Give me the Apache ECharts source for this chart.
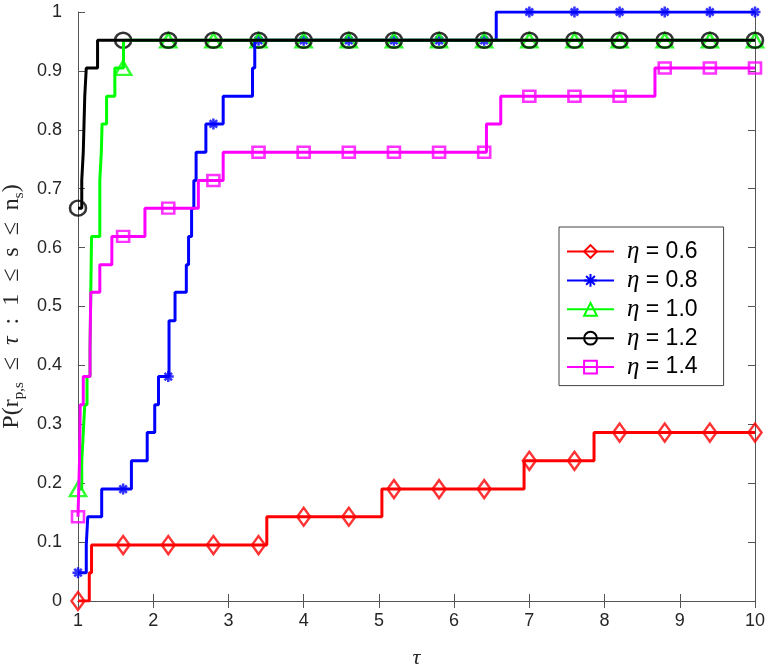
<!DOCTYPE html>
<html>
<head>
<meta charset="utf-8">
<script src="https://cdn.jsdelivr.net/npm/echarts@6/dist/echarts.min.js"></script>
<style>
  html, body { margin: 0; padding: 0; background: #fff; }
  #chart { width: 769px; height: 669px; }
</style>
</head>
<body>
<div id="chart"></div>
<script>
// performance profile, step breakpoints (tau where each level starts) and levels
const etaNames = ["0.6", "0.8", "1.0", "1.2", "1.4"];
const tau06 = [1, 1.15, 1.18, 3.51, 5.04, 6.93, 7.86];
const rho06 = [0, 0.048, 0.095, 0.143, 0.190, 0.238, 0.286];
const tau08 = [1, 1.11, 1.13, 1.315, 1.71, 1.92, 2.02, 2.07, 2.21, 2.29, 2.44, 2.47, 2.51, 2.54, 2.57, 2.70, 2.93, 3.32, 3.35, 6.56];
const rho08 = [0.048, 0.095, 0.143, 0.190, 0.238, 0.286, 0.333, 0.381, 0.476, 0.524, 0.571, 0.619, 0.667, 0.714, 0.762, 0.810, 0.857, 0.905, 0.952, 1];
const tau10 = [1, 1.05, 1.07, 1.09, 1.12, 1.16, 1.17, 1.18, 1.29, 1.31, 1.32, 1.38, 1.49, 1.605];
const rho10 = [0.190, 0.238, 0.286, 0.333, 0.381, 0.429, 0.524, 0.619, 0.714, 0.762, 0.810, 0.857, 0.905, 0.952];
const tau12 = [1, 1.05, 1.07, 1.08, 1.09, 1.11, 1.26];
const rho12 = [0.667, 0.714, 0.762, 0.810, 0.857, 0.905, 0.952];
const tau14 = [1, 1.02, 1.03, 1.07, 1.16, 1.17, 1.29, 1.45, 1.89, 2.60, 2.93, 6.43, 6.62, 8.67];
const rho14 = [0.143, 0.238, 0.333, 0.381, 0.429, 0.524, 0.571, 0.619, 0.667, 0.714, 0.762, 0.810, 0.857, 0.905];
// taus where markers sit
const markerTau = [1, 1.6, 2.2, 2.8, 3.4, 4, 4.6, 5.2, 5.8, 6.4, 7, 7.6, 8.2, 8.8, 9.4, 10];
const tauMax = 10;

const asterisk = "path://M5 0L5 10M0 5L10 5M1.6 1.6L8.4 8.4M1.6 8.4L8.4 1.6";

const curves = [
  { name: etaNames[0], tau: tau06, rho: rho06, color: "#ff0000", symbol: "diamond", size: [13, 18] },
  { name: etaNames[1], tau: tau08, rho: rho08, color: "#0000ff", symbol: asterisk, size: 11 },
  { name: etaNames[2], tau: tau10, rho: rho10, color: "#00ff00", symbol: "triangle", size: [16, 14] },
  { name: etaNames[3], tau: tau12, rho: rho12, color: "#000000", symbol: "circle", size: [16, 15] },
  { name: etaNames[4], tau: tau14, rho: rho14, color: "#ff00ff", symbol: "rect", size: [12, 11] }
];

// value of a step curve at tau
function stepAt(c, t) {
  let v = c.rho[0];
  for (let i = 0; i < c.tau.length; i++) {
    if (c.tau[i] <= t + 1e-9) v = c.rho[i];
  }
  return v;
}

const series = [];
curves.forEach(c => {
  const pts = c.tau.map((t, i) => [t, c.rho[i]]);
  pts.push([tauMax, c.rho[c.rho.length - 1]]);
  series.push({
    name: c.name,
    type: "line",
    step: "end",
    data: pts,
    symbol: c.symbol,
    showSymbol: false,
    lineStyle: { color: c.color, width: 3 },
    itemStyle: { color: "transparent", borderColor: c.color, borderWidth: 2.5 },
    emphasis: { disabled: true },
    animation: false
  });
  series.push({
    name: c.name,
    type: "scatter",
    data: markerTau.map(t => [t, stepAt(c, t)]),
    symbol: c.symbol,
    symbolSize: c.size,
    clip: false,
    itemStyle: { color: "transparent", borderColor: c.color, borderWidth: 2.5 },
    emphasis: { disabled: true },
    animation: false
  });
});

const axisColor = "#555";
const labelColor = "#262626";
const serif = "'Liberation Serif', 'DejaVu Serif', serif";

const chart = echarts.init(document.getElementById("chart"));
chart.setOption({
  backgroundColor: "#fff",
  textStyle: { fontFamily: "'Liberation Sans', Arial, sans-serif" },
  grid: { left: 78, right: 14, top: 12, bottom: 68, containLabel: false, outerBoundsMode: "none" },
  legend: {
    orient: "vertical",
    left: 559,
    top: 227,
    data: etaNames,
    itemWidth: 47,
    itemHeight: 16,
    itemGap: 3.9,
    padding: [12, 26, 6, 7],
    backgroundColor: "#fff",
    borderColor: "#444",
    borderWidth: 1,
    borderRadius: 0,
    formatter: n => "{e|η} = " + n,
    textStyle: {
      fontSize: 23,
      lineHeight: 24,
      color: "#000",
      rich: { e: { fontFamily: serif, fontStyle: "italic", fontSize: 25, lineHeight: 24, color: "#000", padding: [0, 0, 0, 8] } }
    }
  },
  xAxis: [
    {
      type: "value", min: 1, max: tauMax, interval: 1, position: "bottom",
      axisLine: { lineStyle: { color: axisColor, width: 1 } },
      axisTick: { inside: true, length: 7, lineStyle: { color: axisColor } },
      axisLabel: { fontSize: 18, color: labelColor, margin: 11 },
      splitLine: { show: false },
      name: "τ", nameLocation: "middle", nameGap: 46,
      nameTextStyle: { fontFamily: serif, fontStyle: "italic", fontSize: 22, color: labelColor }
    },
    {
      type: "value", min: 1, max: tauMax, interval: 1, position: "top",
      axisLine: { lineStyle: { color: axisColor, width: 1 } },
      axisTick: { inside: true, length: 7, lineStyle: { color: axisColor } },
      axisLabel: { show: false },
      splitLine: { show: false }
    }
  ],
  yAxis: [
    {
      type: "value", min: 0, max: 1, interval: 0.1, position: "left",
      axisLine: { show: true, lineStyle: { color: axisColor, width: 1 } },
      axisTick: { show: true, inside: true, length: 7, lineStyle: { color: axisColor } },
      axisLabel: { fontSize: 18, color: labelColor, margin: 16 },
      splitLine: { show: false },
      name: "{t|P(r}{s|p,s}{t|  ≤  }{i|τ}{t|  :  1  ≤  s  ≤  n}{s|s}{t|)}",
      nameLocation: "middle", nameGap: 47,
      nameTextStyle: {
        color: labelColor,
        rich: {
          t: { fontFamily: serif, fontSize: 24, color: labelColor, lineHeight: 28, verticalAlign: "middle" },
          i: { fontFamily: serif, fontStyle: "italic", fontSize: 24, color: labelColor, lineHeight: 28, verticalAlign: "middle" },
          s: { fontFamily: serif, fontSize: 15, color: labelColor, lineHeight: 28, verticalAlign: "bottom" }
        }
      }
    },
    {
      type: "value", min: 0, max: 1, interval: 0.1, position: "right",
      axisLine: { show: true, lineStyle: { color: axisColor, width: 1 } },
      axisTick: { show: true, inside: true, length: 7, lineStyle: { color: axisColor } },
      axisLabel: { show: false },
      splitLine: { show: false }
    }
  ],
  series: series
});
</script>
</body>
</html>
